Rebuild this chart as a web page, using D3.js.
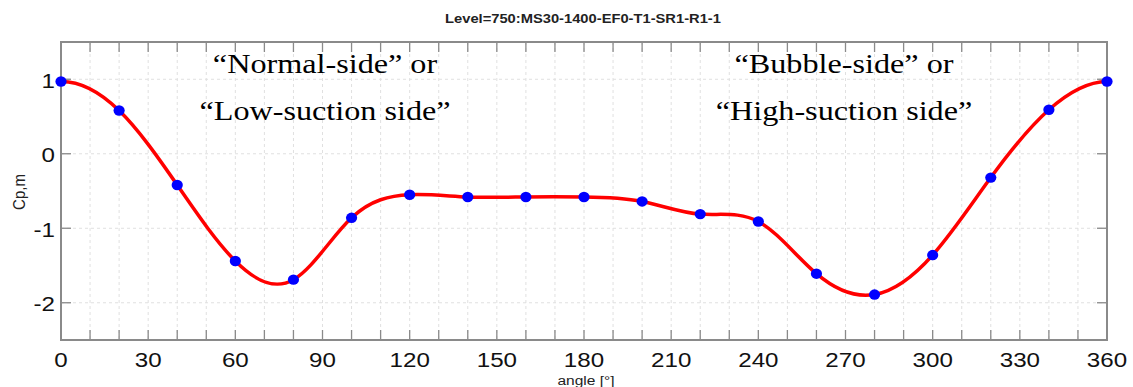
<!DOCTYPE html>
<html>
<head>
<meta charset="utf-8">
<script src="https://cdn.jsdelivr.net/npm/d3@7"></script>
<style>
  html, body { margin: 0; padding: 0; background: #fff; }
  svg { display: block; }
</style>
</head>
<body>
<svg id="chart" width="1133" height="387"></svg>
<script>
// Pressure coefficient around the section, sampled every 20 degrees
const angles = [0, 20, 40, 60, 80, 100, 120, 140, 160, 180, 200, 220, 240, 260, 280, 300, 320, 340, 360];
const cpValues = [0.97, 0.58, -0.42, -1.44, -1.69, -0.86, -0.55, -0.58, -0.58, -0.58, -0.64, -0.81, -0.91, -1.61, -1.89, -1.36, -0.32, 0.59, 0.97];
const xTickLabels = [0, 30, 60, 90, 120, 150, 180, 210, 240, 270, 300, 330, 360];
const yTickLabels = [1, 0, -1, -2];
const titleText = "Level=750:MS30-1400-EF0-T1-SR1-R1-1";
const xLabel = "angle [°]";
const yLabel = "Cp,m";
const leftNote = ["\u201CNormal-side\u201D or", "\u201CLow-suction side\u201D"];
const rightNote = ["\u201CBubble-side\u201D or", "\u201CHigh-suction side\u201D"];

const margin = { left: 61, right: 26, top: 42, bottom: 47 };
const W = 1133, H = 387;
const svg = d3.select("#chart");

const x = d3.scaleLinear().domain([0, 360]).range([margin.left, W - margin.right]);
const y = d3.scaleLinear().domain([-2.5, 1.5]).range([H - margin.bottom, margin.top]);

const minorTicks = d3.range(0, 361, 10);
const axisColor = "#8a8a8a";
const wide = 1.15; // horizontal widening applied to lettering

// dashed grid
const grid = svg.append("g");
grid.selectAll("line.v").data(minorTicks.slice(1, -1)).join("line")
  .attr("x1", d => x(d)).attr("x2", d => x(d))
  .attr("y1", y(1.5)).attr("y2", y(-2.5))
  .attr("stroke", "#e0e0e0").attr("stroke-width", 1).attr("stroke-dasharray", "3,3");
grid.selectAll("line.h").data(yTickLabels).join("line")
  .attr("x1", x(0)).attr("x2", x(360))
  .attr("y1", d => y(d)).attr("y2", d => y(d))
  .attr("stroke", "#e0e0e0").attr("stroke-width", 1).attr("stroke-dasharray", "3,3");

// inward ticks on all four sides
const tickLen = 10;
const ticks = svg.append("g").attr("stroke", axisColor).attr("stroke-width", 1.3);
ticks.selectAll("line.b").data(minorTicks).join("line")
  .attr("x1", d => x(d)).attr("x2", d => x(d))
  .attr("y1", y(-2.5)).attr("y2", y(-2.5) - tickLen);
ticks.selectAll("line.t").data(minorTicks).join("line")
  .attr("x1", d => x(d)).attr("x2", d => x(d))
  .attr("y1", y(1.5)).attr("y2", y(1.5) + tickLen);
ticks.selectAll("line.l").data(yTickLabels).join("line")
  .attr("x1", x(0)).attr("x2", x(0) + tickLen)
  .attr("y1", d => y(d)).attr("y2", d => y(d));
ticks.selectAll("line.r").data(yTickLabels).join("line")
  .attr("x1", x(360)).attr("x2", x(360) - tickLen)
  .attr("y1", d => y(d)).attr("y2", d => y(d));

// frame
svg.append("rect")
  .attr("x", x(0)).attr("y", y(1.5))
  .attr("width", x(360) - x(0)).attr("height", y(-2.5) - y(1.5))
  .attr("fill", "none").attr("stroke", axisColor).attr("stroke-width", 2);

const sans = "'Liberation Sans', Arial, Helvetica, sans-serif";
const at = (px, py) => `translate(${px},${py}) scale(${wide},1)`;

// tick labels
svg.append("g").selectAll("text").data(xTickLabels).join("text")
  .attr("transform", d => at(x(d), y(-2.5) + 27))
  .attr("text-anchor", "middle")
  .attr("font-family", sans).attr("font-size", 21).attr("fill", "#111")
  .text(d => d);
svg.append("g").selectAll("text").data(yTickLabels).join("text")
  .attr("transform", d => at(x(0) - 6, y(d) + 8.5))
  .attr("text-anchor", "end")
  .attr("font-family", sans).attr("font-size", 21).attr("fill", "#111")
  .text(d => d);

// axis titles and chart title
svg.append("text")
  .attr("transform", at((x(0) + x(360)) / 2 + 2, 385))
  .attr("text-anchor", "middle")
  .attr("font-family", sans).attr("font-size", 13.5).attr("fill", "#222")
  .text(xLabel);
svg.append("text")
  .attr("transform", `translate(25, 192) rotate(-90) scale(1,${wide})`)
  .attr("text-anchor", "middle")
  .attr("font-family", sans).attr("font-size", 15).attr("fill", "#222")
  .text(yLabel);
svg.append("text")
  .attr("transform", at(583, 23))
  .attr("text-anchor", "middle")
  .attr("font-family", sans).attr("font-size", 12.8).attr("font-weight", "bold").attr("fill", "#222")
  .text(titleText);

// side annotations
const serif = "'Liberation Serif', 'Times New Roman', serif";
function note(lines, cx) {
  svg.append("g").selectAll("text").data(lines).join("text")
    .attr("transform", (d, i) => at(cx, 73 + i * 47))
    .attr("text-anchor", "middle")
    .attr("font-family", serif).attr("font-size", 28).attr("fill", "#000")
    .text(d => d);
}
note(leftNote, 325);
note(rightNote, 844);

// periodic spline: wrap neighbouring samples past both ends, then clip to the frame
const pts = angles.map((a, i) => ({ a, v: cpValues[i] }));
const n = angles.length - 1;
const wrapped = [
  { a: angles[n - 2] - 360, v: cpValues[n - 2] },
  { a: angles[n - 1] - 360, v: cpValues[n - 1] },
  ...pts,
  { a: angles[1] + 360, v: cpValues[1] },
  { a: angles[2] + 360, v: cpValues[2] }
];

svg.append("clipPath").attr("id", "plotClip").append("rect")
  .attr("x", x(0)).attr("y", y(1.5))
  .attr("width", x(360) - x(0)).attr("height", y(-2.5) - y(1.5));

const line = d3.line().x(d => x(d.a)).y(d => y(d.v)).curve(d3.curveNatural);

svg.append("path")
  .datum(wrapped)
  .attr("clip-path", "url(#plotClip)")
  .attr("d", line)
  .attr("fill", "none").attr("stroke", "#ff0000").attr("stroke-width", 3.5);

svg.append("g").selectAll("ellipse").data(pts).join("ellipse")
  .attr("cx", d => x(d.a)).attr("cy", d => y(d.v)).attr("rx", 5.6).attr("ry", 5.2)
  .attr("fill", "#0000ff");
</script>
</body>
</html>
